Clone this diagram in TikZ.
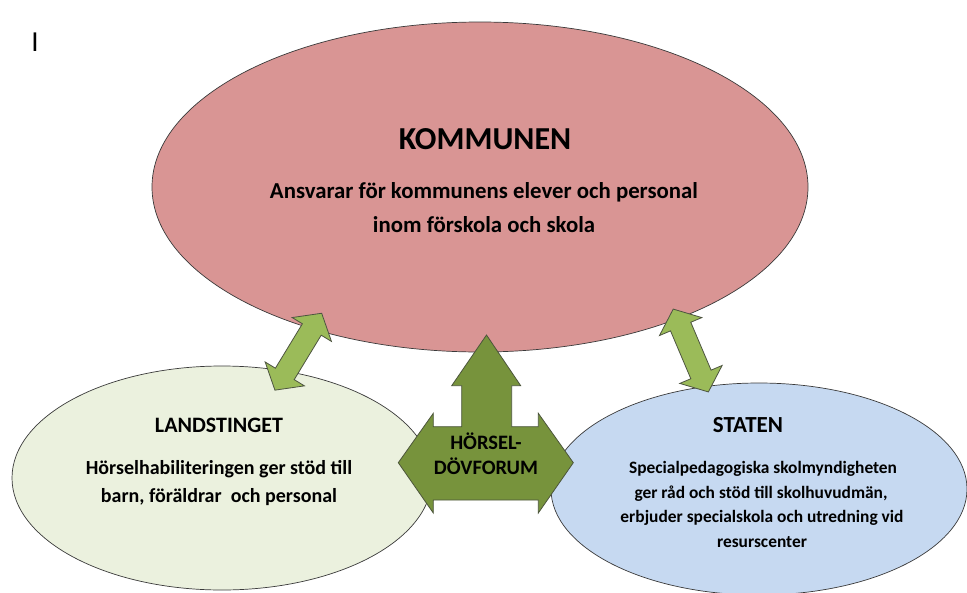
\documentclass[tikz,border=0pt]{standalone}
\usepackage{fontspec}
\setmainfont{Carlito}
\usetikzlibrary{shapes.geometric}
\definecolor{kommred}{HTML}{D99594}
\definecolor{landgreen}{HTML}{EBF1DE}
\definecolor{statblue}{HTML}{C6D9F1}
\definecolor{lightarrow}{HTML}{9BBB59}
\definecolor{darkarrow}{HTML}{77933C}
\definecolor{edgegray}{HTML}{3A3A3A}
\tikzset{
  blob/.style={ellipse, draw=edgegray, line width=0.7pt, inner sep=0pt},
  ttl/.style={font=\bfseries\fontsize{#1}{#1}\selectfont, inner sep=0pt, anchor=center},
  body/.style={font=\bfseries\fontsize{#1}{#1}\selectfont, inner sep=0pt, anchor=center},
  smallarrow/.style={fill=lightarrow, draw=edgegray!80!lightarrow, line width=0.8pt, line join=miter},
  bigarrow/.style={fill=darkarrow, draw=edgegray!70!darkarrow, line width=0.8pt, line join=miter}
}
\begin{document}
\begin{tikzpicture}[x=1pt,y=-1pt]
\useasboundingbox (0,0) rectangle (967,592);
% cursor-like I
\node[font=\fontsize{29}{29}\selectfont, inner sep=0pt, anchor=base] (cursor) at (35,51) {I};
% ellipses
\node[blob, fill=kommred, minimum width=656, minimum height=330] (komm) at (480,187) {};
\node[blob, fill=landgreen, minimum width=420, minimum height=224] (land) at (222,478) {};
\node[blob, fill=statblue, minimum width=416, minimum height=212] (stat) at (759,489) {};
% texts
\node[ttl=32] (kommT) at (485,139) {KOMMUNEN};
\node[body=22.8] (kommB1) at (484,192) {Ansvarar för kommunens elever och personal};
\node[body=22.8] (kommB2) at (484,225) {inom förskola och skola};
\node[ttl=22] (landT) at (219,425) {LANDSTINGET};
\node[body=20] (landB1) at (219,469) {Hörselhabiliteringen ger stöd till};
\node[body=20] (landB2) at (219,497) {barn, föräldrar\ \ och personal};
\node[ttl=23] (statT) at (748,425) {STATEN};
\node[body=17.4] (statB1) at (763,469) {Specialpedagogiska skolmyndigheten};
\node[body=17.4] (statB2) at (761,494) {ger råd och stöd till skolhuvudmän,};
\node[body=17.4] (statB3) at (762,518) {erbjuder specialskola och utredning vid};
\node[body=17.4] (statB4) at (762,542) {resurscenter};
% small double arrows
\coordinate (la) at (298.3,351.7);
\coordinate (ra) at (690.8,350.5);
\begin{scope}[shift={(la)}, rotate=58.7]
\draw[smallarrow] (-45,0) -- (-26,23) -- (-26,11) -- (26,11) -- (26,23) -- (45,0) -- (26,-23) -- (26,-11) -- (-26,-11) -- (-26,-23) -- cycle;
\end{scope}
\begin{scope}[shift={(ra)}, rotate=-67]
\draw[smallarrow] (-45,0) -- (-26,23) -- (-26,11) -- (26,11) -- (26,23) -- (45,0) -- (26,-23) -- (26,-11) -- (-26,-11) -- (-26,-23) -- cycle;
\end{scope}
% central three-way arrow
\draw[bigarrow] (486.5,335) -- (520.7,385.7) -- (511.7,385.7) -- (511.7,426.7) -- (538.3,426.7) -- (538.3,413.3) -- (573.3,462.7) -- (538.3,513) -- (538.3,500) -- (433.3,500) -- (433.3,513) -- (398.3,462.7) -- (433.3,413.3) -- (433.3,426.7) -- (461.7,426.7) -- (461.7,385.7) -- (451.7,385.7) -- cycle;
\node[body=20.5] (forum1) at (486,441) {HÖRSEL-};
\node[body=20.5] (forum2) at (486,466) {DÖVFORUM};
\end{tikzpicture}
\end{document}
